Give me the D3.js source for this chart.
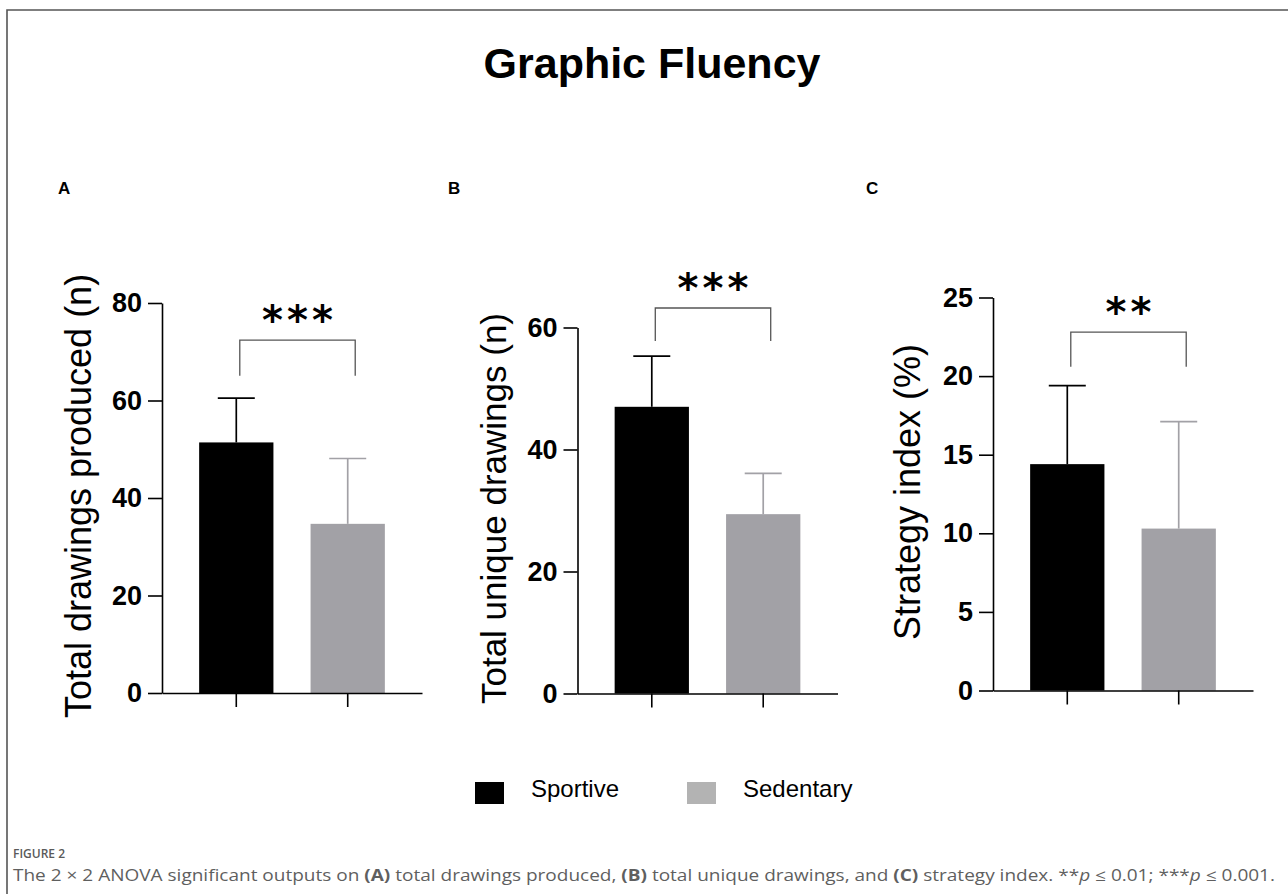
<!DOCTYPE html>
<html>
<head>
<meta charset="utf-8">
<script src="https://cdn.jsdelivr.net/npm/d3@7"></script>
<style>
  body { margin: 0; background: #fff; }
  svg { display: block; }
</style>
</head>
<body>
<div class="container"></div>
<script>
// data
const groups = ['Sportive', 'Sedentary'];
const panelLetters = ['A', 'B', 'C'];
const yTitles = ['Total drawings produced (n)', 'Total unique drawings (n)', 'Strategy index (%)'];

const drawingsMean = [51.4, 34.7];
const drawingsSD = [9.1, 13.4];
const uniqueMean = [47.0, 29.4];
const uniqueSD = [8.3, 6.7];
const strategyMean = [14.4, 10.3];
const strategySD = [5.0, 6.8];

const drawingsTicks = [0, 20, 40, 60, 80];
const uniqueTicks = [0, 20, 40, 60];
const strategyTicks = [0, 5, 10, 15, 20, 25];

const signif = ['***', '***', '**'];
const bracketTop = [72.4, 63.2, 22.8];
const bracketLeg = [65.1, 57.8, 20.6];

const groupColors = ['#000000', '#a2a1a6'];
const legendColors = ['#000000', '#b3b3b3'];

// initial setup
const w = 1288;
const h = 894;

const svg = d3.select('.container')
              .append('svg')
              .attr('width', w)
              .attr('height', h);

// frame
svg.append('path')
   .attr('d', `M7,${h} L7,10 L${w},10`)
   .attr('fill', 'none')
   .attr('stroke', '#555')
   .attr('stroke-width', 1.6);

svg.append('text')
   .attr('x', 652)
   .attr('y', 78)
   .attr('text-anchor', 'middle')
   .style('font-family', 'Liberation Sans, Arial, sans-serif')
   .style('font-weight', 'bold')
   .style('font-size', '43px')
   .text('Graphic Fluency');

const panels = [
  {mean: drawingsMean, sd: drawingsSD, ticks: drawingsTicks, x0: 162, y0: 693, ph: 390, labelX: 91, letterX: 58, titleFs: 36},
  {mean: uniqueMean, sd: uniqueSD, ticks: uniqueTicks, x0: 577.5, y0: 693.5, ph: 366, labelX: 506, letterX: 448, titleFs: 35},
  {mean: strategyMean, sd: strategySD, ticks: strategyTicks, x0: 993, y0: 690.5, ph: 393, labelX: 920, letterX: 866, titleFs: 36}
];
const plotWidth = 260;

panels.forEach((p, i) => {
  const plot = svg.append('g')
                  .attr('transform', `translate(${p.x0}, ${p.y0 - p.ph})`);

  const y = d3.scaleLinear()
              .domain([0, d3.max(p.ticks)])
              .range([p.ph, 0]);
  const x = d3.scaleBand()
              .domain(groups)
              .range([0, plotWidth])
              .paddingInner(1 / 3)
              .paddingOuter(1 / 3);

  // panel letter
  svg.append('text')
     .attr('x', p.letterX)
     .attr('y', 194)
     .style('font-family', 'Liberation Sans, Arial, sans-serif')
     .style('font-weight', 'bold')
     .style('font-size', '17px')
     .text(panelLetters[i]);

  // y title
  svg.append('text')
     .attr('transform', `translate(${p.labelX}, ${p.y0 - p.ph / 2 - 2}) rotate(-90)`)
     .attr('text-anchor', 'middle')
     .style('font-family', 'Liberation Sans, Arial, sans-serif')
     .style('font-size', p.titleFs + 'px')
     .text(yTitles[i]);

  // bars
  plot.selectAll('rect.bar')
      .data(p.mean)
      .enter()
      .append('rect')
      .attr('class', 'bar')
      .attr('x', (d, j) => x(groups[j]))
      .attr('width', x.bandwidth())
      .attr('y', d => y(d))
      .attr('height', d => p.ph - y(d))
      .attr('fill', (d, j) => groupColors[j]);

  // error bars (upper only)
  const cx = j => x(groups[j]) + x.bandwidth() / 2;
  const err = plot.selectAll('g.err')
                  .data(p.mean)
                  .enter()
                  .append('g')
                  .attr('class', 'err')
                  .attr('stroke', (d, j) => groupColors[j])
                  .attr('stroke-width', 1.7);
  err.append('line')
     .attr('x1', (d, j) => cx(j))
     .attr('x2', (d, j) => cx(j))
     .attr('y1', d => y(d))
     .attr('y2', (d, j) => y(d + p.sd[j]));
  err.append('line')
     .attr('x1', (d, j) => cx(j) - 18.5)
     .attr('x2', (d, j) => cx(j) + 18.5)
     .attr('y1', (d, j) => y(d + p.sd[j]))
     .attr('y2', (d, j) => y(d + p.sd[j]));

  // axes
  const yAxis = d3.axisLeft(y)
                  .tickValues(p.ticks)
                  .tickSize(14)
                  .tickSizeOuter(0)
                  .tickPadding(6);
  const xAxis = d3.axisBottom(x)
                  .tickSize(14)
                  .tickSizeOuter(0)
                  .tickFormat('');

  const yGroup = plot.append('g').call(yAxis);
  const xGroup = plot.append('g')
                     .attr('transform', `translate(0, ${p.ph})`)
                     .call(xAxis);

  [yGroup, xGroup].forEach(g => {
    g.selectAll('path, line')
     .attr('stroke', '#000')
     .attr('stroke-width', 1.6);
  });
  yGroup.selectAll('text')
        .attr('fill', '#000')
        .style('font-family', 'Liberation Sans, Arial, sans-serif')
        .style('font-weight', 'bold')
        .style('font-size', '27px');

  // significance bracket
  const bx1 = cx(0) + 3.5;
  const bx2 = cx(1) + 7.5;
  plot.append('path')
      .attr('d', `M${bx1},${y(bracketLeg[i])} L${bx1},${y(bracketTop[i])} L${bx2},${y(bracketTop[i])} L${bx2},${y(bracketLeg[i])}`)
      .attr('fill', 'none')
      .attr('stroke', '#555')
      .attr('stroke-width', 1.3);

  plot.append('text')
      .attr('x', (bx1 + bx2) / 2 + 2)
      .attr('y', y(bracketTop[i]) - 6)
      .attr('text-anchor', 'middle')
      .style('font-family', 'DejaVu Sans, sans-serif')
      .style('font-weight', 'bold')
      .style('font-size', '40px')
      .style('letter-spacing', '4px')
      .text(signif[i]);
});

// legend
const legend = svg.append('g');
const legendX = [475, 687];
groups.forEach((g, j) => {
  legend.append('rect')
        .attr('x', legendX[j])
        .attr('y', 782)
        .attr('width', 29)
        .attr('height', 22)
        .attr('fill', legendColors[j]);
  legend.append('text')
        .attr('x', legendX[j] + 56)
        .attr('y', 797)
        .style('font-family', 'Liberation Sans, Arial, sans-serif')
        .style('font-size', '24px')
        .text(g);
});

// caption
svg.append('text')
   .attr('x', 13)
   .attr('y', 858)
   .attr('fill', '#5a5a5a')
   .style('font-family', 'Open Sans, sans-serif')
   .style('font-weight', '600')
   .style('font-size', '12px')
   .text('FIGURE 2');

const cap = svg.append('text')
               .attr('x', 13)
               .attr('y', 881)
               .attr('fill', '#5f5f5f')
               .attr('textLength', 1262)
               .attr('lengthAdjust', 'spacingAndGlyphs')
               .style('font-family', 'Open Sans, sans-serif')
               .style('font-size', '16px');
const parts = [
  ['The 2 \u00d7 2 ANOVA significant outputs on ', ''],
  ['(A)', 'b'],
  [' total drawings produced, ', ''],
  ['(B)', 'b'],
  [' total unique drawings, and ', ''],
  ['(C)', 'b'],
  [' strategy index. **', ''],
  ['p', 'i'],
  [' \u2264 0.01; ***', ''],
  ['p', 'i'],
  [' \u2264 0.001.', '']
];
parts.forEach(([t, s]) => {
  cap.append('tspan')
     .style('font-weight', s === 'b' ? '700' : null)
     .style('font-style', s === 'i' ? 'italic' : null)
     .text(t);
});
</script>
</body>
</html>
